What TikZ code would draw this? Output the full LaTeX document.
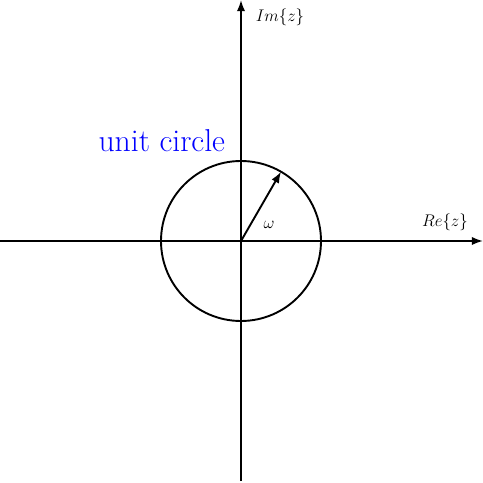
\documentclass[tikz,border=0pt]{standalone}
\usetikzlibrary{arrows.meta}
\begin{document}
\begin{tikzpicture}[x=1cm,y=1cm,
  axis/.style={line width=1.35pt,-{Latex[length=8pt,width=6pt]}},
  lbl/.style={inner sep=0pt,font=\fontsize{13}{15}\selectfont}]
\useasboundingbox (-6.025,-6.05) rectangle (6.05,6.025);
\coordinate (o) at (0,0);
\coordinate (xl) at (-6.025,0);
\coordinate (xr) at (6.05,0);
\coordinate (yb) at (0,-6.0);
\coordinate (yt) at (0,6.025);
\coordinate (tip) at (60:2);
\draw[axis] (xl) -- (xr);
\draw[axis] (yb) -- (yt);
\draw[line width=1.35pt] (o) circle (2);
\draw[axis] (o) -- (tip);
\node[lbl] (im) at (0.975,5.6) {$Im\{z\}$};
\node[lbl] (re) at (5.1,0.48) {$Re\{z\}$};
\node[lbl,font=\fontsize{12}{14}\selectfont] (w) at (0.7,0.4) {$\omega$};
\node[inner sep=0pt,text=blue,font=\fontsize{22.5}{26}\selectfont] (uc) at (-1.98,2.52) {unit circle};
\end{tikzpicture}
\end{document}
